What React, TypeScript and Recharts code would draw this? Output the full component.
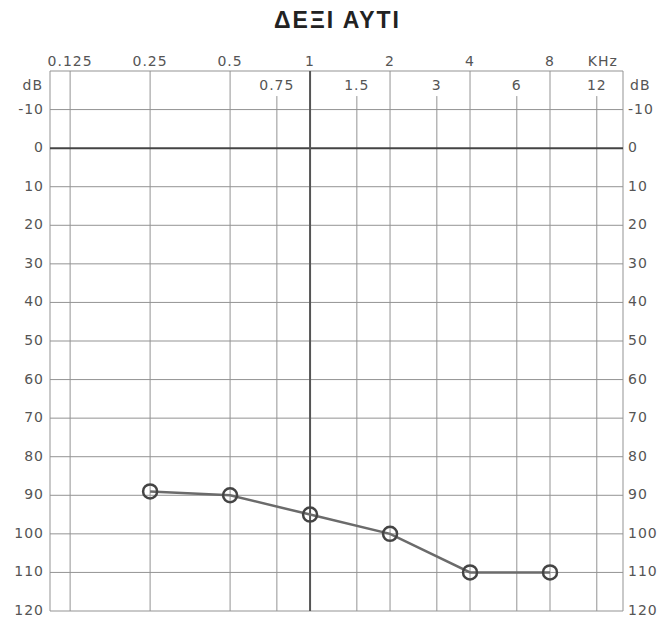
import { LineChart, Line, XAxis, YAxis, ReferenceLine, ReferenceArea } from "recharts";

// audiogram, right ear
const freqs = [0.25, 0.5, 1, 2, 4, 8];
const thresholds = [89, 90, 95, 100, 110, 110];

const octaveTicks = [0.125, 0.25, 0.5, 1, 2, 4, 8, 12];
const octaveLabels = ["0.125", "0.25", "0.5", "1", "2", "4", "8", "KHz"];
const interTicks = [0.75, 1.5, 3, 6, 12];
const interLabels = ["0.75", "1.5", "3", "6", "12"];
const dbTicks = [-10, 0, 10, 20, 30, 40, 50, 60, 70, 80, 90, 100, 110, 120];

const data = freqs.map((f, i) => ({ freq: f, db: thresholds[i] }));

const xDomain = [0.105, 15.06];
const yDomain = [-20, 120];

const font = { fontFamily: "DejaVu Sans", fontSize: 14, fill: "#555", letterSpacing: 1 };
const gridColor = "#939393";

const TopTick = (props: any) => {
  const { x, payload } = props;
  const i = octaveTicks.indexOf(payload.value);
  const label = octaveLabels[i];
  return (
    <text x={x + (label === "KHz" ? 6 : 0)} y={66} textAnchor="middle" {...font}>
      {label}
    </text>
  );
};

const InterTick = (props: any) => {
  const { x, payload } = props;
  const i = interTicks.indexOf(payload.value);
  return (
    <text x={x} y={90} textAnchor="middle" {...font}>
      {interLabels[i]}
    </text>
  );
};

const LeftTick = (props: any) => {
  const { y, payload } = props;
  return (
    <g>
      {payload.value === -10 && (
        <text x={43} y={y - 20} textAnchor="end" {...font}>
          dB
        </text>
      )}
      <text x={44} y={y + 4} textAnchor="end" {...font}>
        {payload.value}
      </text>
    </g>
  );
};

const RightTick = (props: any) => {
  const { y, payload } = props;
  return (
    <g>
      {payload.value === -10 && (
        <text x={630} y={y - 20} textAnchor="start" {...font}>
          dB
        </text>
      )}
      <text x={628} y={y + 4} textAnchor="start" {...font}>
        {payload.value}
      </text>
    </g>
  );
};

export default function App() {
  return (
    <div style={{ position: "absolute", left: 0, top: 0, width: 665, height: 618, background: "#fff" }}>
      <div
        style={{
          position: "absolute",
          top: 8,
          left: 5,
          width: 665,
          textAlign: "center",
          fontFamily: "Liberation Sans, Arial, sans-serif",
          fontWeight: "bold",
          fontSize: 23,
          lineHeight: "24px",
          letterSpacing: 2,
          color: "#222",
        }}
      >
        ΔΕΞΙ ΑΥΤΙ
      </div>
      <LineChart
        width={665}
        height={618}
        data={data}
        margin={{ top: 69, right: 41, bottom: 7, left: 49 }}
      >
        <XAxis
          dataKey="freq"
          type="number"
          scale="log"
          domain={xDomain}
          orientation="top"
          ticks={octaveTicks}
          tick={<TopTick />}
          interval={0}
          axisLine={false}
          tickLine={false}
          height={1}
          allowDataOverflow
        />
        <XAxis
          xAxisId="inter"
          dataKey="freq"
          type="number"
          scale="log"
          domain={xDomain}
          orientation="top"
          ticks={interTicks}
          tick={<InterTick />}
          interval={0}
          axisLine={false}
          tickLine={false}
          height={1}
          allowDataOverflow
        />
        <YAxis
          type="number"
          domain={yDomain}
          reversed
          ticks={dbTicks}
          tick={<LeftTick />}
          interval={0}
          axisLine={false}
          tickLine={false}
          width={1}
          allowDataOverflow
        />
        <YAxis
          yAxisId="right"
          orientation="right"
          type="number"
          domain={yDomain}
          reversed
          ticks={dbTicks}
          tick={<RightTick />}
          interval={0}
          axisLine={false}
          tickLine={false}
          width={1}
          allowDataOverflow
        />

        {dbTicks
          .filter((v) => v !== 0 && v !== 120)
          .map((v) => (
            <ReferenceLine key={"h" + v} y={v} stroke={gridColor} strokeWidth={1} />
          ))}
        {octaveTicks
          .filter((f) => f !== 1 && f !== 12)
          .map((f) => (
            <ReferenceLine key={"v" + f} x={f} stroke={gridColor} strokeWidth={1} />
          ))}
        {interTicks.map((f) => (
          <ReferenceLine
            key={"i" + f}
            segment={[
              { x: f, y: -13.5 },
              { x: f, y: 120 },
            ]}
            stroke={gridColor}
            strokeWidth={1}
          />
        ))}
        <ReferenceArea
          x1={xDomain[0]}
          x2={xDomain[1]}
          y1={yDomain[0]}
          y2={yDomain[1]}
          fill="none"
          stroke={gridColor}
          strokeWidth={1}
        />
        <ReferenceLine y={0} stroke="#444" strokeWidth={2} />
        <ReferenceLine x={1} stroke="#555" strokeWidth={2} />

        <Line
          dataKey="db"
          type="linear"
          stroke="#6b6b6b"
          strokeWidth={2.5}
          dot={{ r: 7, stroke: "#444", strokeWidth: 2.5, fill: "none" }}
          isAnimationActive={false}
        />
      </LineChart>
    </div>
  );
}
